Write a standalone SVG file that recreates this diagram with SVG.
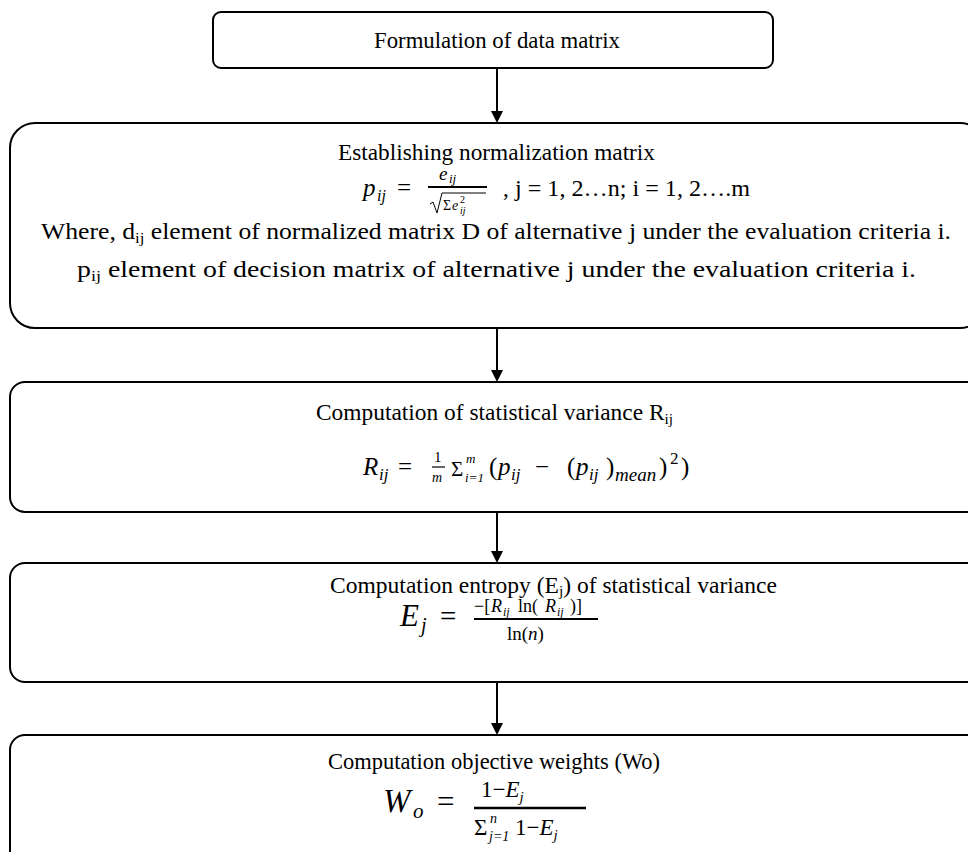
<svg xmlns="http://www.w3.org/2000/svg" width="968" height="852" viewBox="0 0 968 852">
  <style>
    .box { fill: #ffffff; stroke: #000000; stroke-width: 2; }
    .t { font-family: "Liberation Serif", "Times New Roman", serif; font-size: 23px; fill: #000000; }
    .mi { font-family: "Liberation Serif", "Times New Roman", serif; font-style: italic; fill: #000000; }
    .mu { font-family: "Liberation Serif", "Times New Roman", serif; fill: #000000; }
    .bar { stroke: #000000; fill: none; }
    .edge { stroke: #000000; stroke-width: 2; fill: none; }
  </style>
  <defs>
    <marker id="arrow" markerUnits="userSpaceOnUse" markerWidth="14" markerHeight="14" refX="6" refY="6" orient="auto">
      <path d="M0,0 L12,6 L0,12 z" fill="#000000"/>
    </marker>
  </defs>

  <rect width="968" height="852" fill="#ffffff"/>

  <!-- connectors -->
  <g id="connectors">
    <line class="edge" x1="497" y1="68" x2="497" y2="117" marker-end="url(#arrow)"/>
    <line class="edge" x1="497" y1="328" x2="497" y2="376" marker-end="url(#arrow)"/>
    <line class="edge" x1="497" y1="512" x2="497" y2="557" marker-end="url(#arrow)"/>
    <line class="edge" x1="497" y1="682" x2="497" y2="729" marker-end="url(#arrow)"/>
  </g>

  <!-- step 1 -->
  <g id="data-matrix">
    <rect class="box" x="213" y="12" width="560" height="56" rx="8"/>
    <text class="t" x="374" y="48" textLength="246" lengthAdjust="spacingAndGlyphs">Formulation of data matrix</text>
  </g>

  <!-- step 2 -->
  <g id="normalization">
    <rect class="box" x="10" y="123" width="975" height="205" rx="25"/>
    <text class="t" x="338" y="160" textLength="317" lengthAdjust="spacingAndGlyphs">Establishing normalization matrix</text>
    <!-- p_ij = e_ij / sqrt(sum e^2_ij) -->
    <text class="mi" x="363" y="196" font-size="25">p</text>
    <text class="mi" x="377" y="201" font-size="16">ij</text>
    <text class="mu" x="397" y="196" font-size="25">=</text>
    <text class="mi" x="439" y="180" font-size="19">e</text>
    <text class="mi" x="449" y="183" font-size="13">ij</text>
    <line class="bar" x1="428" y1="187" x2="487" y2="187" stroke-width="1.8"/>
    <path class="bar" d="M430,204 L433,202 L437,213 L442,193 L486,193" stroke-width="1"/>
    <text class="mu" x="443" y="210" font-size="14">Σ</text>
    <text class="mi" x="452" y="210" font-size="14">e</text>
    <text class="mu" x="460" y="203" font-size="10">2</text>
    <text class="mi" x="460" y="214" font-size="10">ij</text>
    <text class="t" x="503" y="196">,</text>
    <text class="t" x="515" y="196" textLength="235" lengthAdjust="spacingAndGlyphs">j = 1, 2…n; i = 1, 2….m</text>
    <text class="t" x="41" y="239" font-size="24" textLength="910" lengthAdjust="spacingAndGlyphs">Where, d<tspan font-size="15" dy="4">ij</tspan><tspan dy="-4"> element of normalized matrix D of alternative j under the evaluation criteria i.</tspan></text>
    <text class="t" x="77" y="277" font-size="24" textLength="839" lengthAdjust="spacingAndGlyphs">p<tspan font-size="15" dy="4">ij</tspan><tspan dy="-4"> element of decision matrix of alternative j under the evaluation criteria i.</tspan></text>
  </g>

  <!-- step 3 -->
  <g id="variance">
    <rect class="box" x="10" y="382" width="975" height="130" rx="15"/>
    <text class="t" x="316" y="420" textLength="357" lengthAdjust="spacingAndGlyphs">Computation of statistical variance R<tspan font-size="15" dy="4">ij</tspan></text>
    <!-- R_ij = 1/m sum (p_ij - (p_ij)_mean)^2 -->
    <text class="mi" x="363" y="475" font-size="25">R</text>
    <text class="mi" x="379" y="480" font-size="17">ij</text>
    <text class="mu" x="398" y="475" font-size="25">=</text>
    <text class="mu" x="434" y="462" font-size="15">1</text>
    <line class="bar" x1="432" y1="467" x2="445" y2="467" stroke-width="1.2"/>
    <text class="mi" x="432" y="482" font-size="14">m</text>
    <text class="mu" x="451" y="476" font-size="21">Σ</text>
    <text class="mi" x="466" y="463" font-size="13">m</text>
    <text class="mi" x="465" y="482" font-size="13">i<tspan class="mu">=1</tspan></text>
    <text class="mu" x="489" y="475" font-size="25">(</text>
    <text class="mi" x="498" y="475" font-size="25">p</text>
    <text class="mi" x="511" y="480" font-size="17">ij</text>
    <text class="mu" x="535" y="475" font-size="25">−</text>
    <text class="mu" x="567" y="475" font-size="25">(</text>
    <text class="mi" x="576" y="475" font-size="25">p</text>
    <text class="mi" x="589" y="480" font-size="17">ij</text>
    <text class="mu" x="606" y="475" font-size="25">)</text>
    <text class="mi" x="615" y="481" font-size="19">mean</text>
    <text class="mu" x="659" y="475" font-size="25">)</text>
    <text class="mu" x="670" y="464" font-size="17">2</text>
    <text class="mu" x="681" y="475" font-size="25">)</text>
  </g>

  <!-- step 4 -->
  <g id="entropy">
    <rect class="box" x="10" y="563" width="975" height="119" rx="15"/>
    <text class="t" x="330" y="593" textLength="447" lengthAdjust="spacingAndGlyphs">Computation entropy (E<tspan font-size="15" dy="3">j</tspan><tspan dy="-3">) of statistical variance</tspan></text>
    <!-- E_j = -[R_ij ln(R_ij)] / ln(n) -->
    <text class="mi" x="400" y="626" font-size="31">E</text>
    <text class="mi" x="421" y="632" font-size="20">j</text>
    <text class="mu" x="440" y="626" font-size="29">=</text>
    <text class="mu" x="474" y="612" font-size="18">−[</text>
    <text class="mi" x="491" y="612" font-size="18">R</text>
    <text class="mi" x="503" y="616" font-size="12">ij</text>
    <text class="mu" x="518" y="612" font-size="18">ln⁡(</text>
    <text class="mi" x="545" y="612" font-size="18">R</text>
    <text class="mi" x="557" y="616" font-size="12">ij</text>
    <text class="mu" x="570" y="612" font-size="18">)]</text>
    <line class="bar" x1="474" y1="619" x2="598" y2="619" stroke-width="2"/>
    <text class="mu" x="507" y="640" font-size="19">ln⁡(<tspan class="mi">n</tspan>)</text>
  </g>

  <!-- step 5 -->
  <g id="objective-weights">
    <rect class="box" x="10" y="735" width="975" height="140" rx="15"/>
    <text class="t" x="328" y="769" textLength="332" lengthAdjust="spacingAndGlyphs">Computation objective weights (Wo)</text>
    <!-- W_o = (1 - E_j) / sum_{j=1}^n (1 - E_j) -->
    <text class="mi" x="383" y="812" font-size="33">W</text>
    <text class="mi" x="413" y="818" font-size="21">o</text>
    <text class="mu" x="437" y="812" font-size="31">=</text>
    <text class="mu" x="481" y="797" font-size="23">1−<tspan class="mi">E</tspan><tspan class="mi" font-size="15" dy="5">j</tspan></text>
    <line class="bar" x1="474" y1="808" x2="586" y2="808" stroke-width="2.5"/>
    <text class="mu" x="474" y="835" font-size="23">Σ</text>
    <text class="mi" x="490" y="823" font-size="14">n</text>
    <text class="mi" x="489" y="841" font-size="14">j<tspan class="mu">=1</tspan></text>
    <text class="mu" x="515" y="835" font-size="23">1−<tspan class="mi">E</tspan><tspan class="mi" font-size="15" dy="5">j</tspan></text>
  </g>
</svg>
